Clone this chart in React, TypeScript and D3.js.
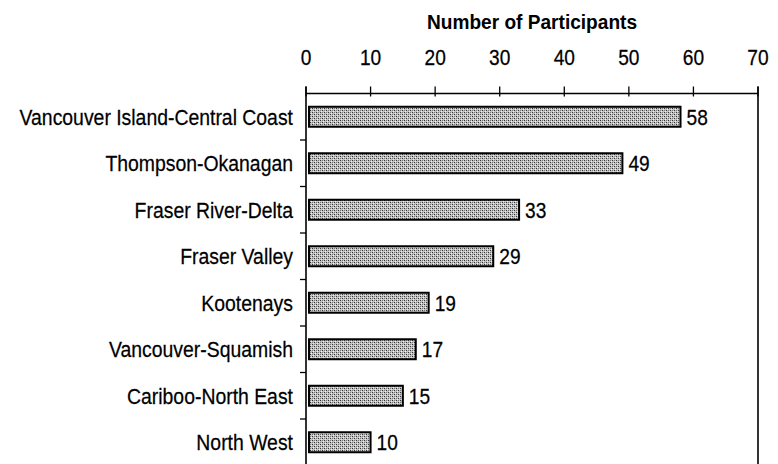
import React from "react";
import * as d3 from "d3";

const categories = [
  "Vancouver Island-Central Coast",
  "Thompson-Okanagan",
  "Fraser River-Delta",
  "Fraser Valley",
  "Kootenays",
  "Vancouver-Squamish",
  "Cariboo-North East",
  "North West",
];
const values = [58, 49, 33, 29, 19, 17, 15, 10];
const tickValues = [0, 10, 20, 30, 40, 50, 60, 70];
const axisTitle = "Number of Participants";

const W = 778;
const H = 464;
const left = 306;
const right = 758;
const top = 93.5;
const band = 46.5;
const SX = 0.87;

function T({
  x,
  y,
  anchor,
  size,
  bold,
  children,
}: {
  x: number;
  y: number;
  anchor: "start" | "middle" | "end";
  size: number;
  bold?: boolean;
  children: React.ReactNode;
}) {
  return (
    <g transform={`translate(${x},${y}) scale(${bold ? 0.91 : SX},1)`}>
      <text
        x={0}
        y={0}
        textAnchor={anchor}
        fontSize={size}
        fontWeight={bold ? "bold" : "normal"}
        stroke="#000"
        strokeWidth={bold ? 0 : 0.25}
      >
        {children}
      </text>
    </g>
  );
}

export default function App() {
  const x = d3.scaleLinear().domain([0, 70]).range([left, right]);
  const y = d3
    .scaleBand<string>()
    .domain(categories)
    .range([top, top + band * categories.length])
    .paddingInner(0.57)
    .paddingOuter(0.285);
  const font = "'Liberation Sans', Arial, sans-serif";
  const bottom = top + band * categories.length;
  return (
    <svg
      width={W}
      height={H}
      style={{ position: "absolute", left: 0, top: 0, background: "#fff" }}
      fontFamily={font}
    >
      <defs>
        <pattern id="dots" width="4" height="4" patternUnits="userSpaceOnUse">
          <rect width="4" height="4" fill="#c4c4c4" />
          <rect x="0" y="0" width="1" height="1" fill="#333" />
          <rect x="2" y="2" width="1" height="1" fill="#333" />
          <rect x="2" y="0" width="1" height="1" fill="#7a7a7a" />
          <rect x="0" y="2" width="1" height="1" fill="#7a7a7a" />
          <rect x="1" y="3" width="1" height="1" fill="#eeeeee" />
          <rect x="3" y="1" width="1" height="1" fill="#eeeeee" />
        </pattern>
      </defs>
      <T x={(left + right) / 2} y={28.5} anchor="middle" size={21} bold>
        {axisTitle}
      </T>
      {tickValues.map((t) => (
        <g key={t}>
          <T x={x(t)} y={65} anchor="middle" size={22}>
            {t}
          </T>
          <line x1={x(t)} x2={x(t)} y1={top - 7} y2={top + 3} stroke="#000" strokeWidth={1.3} />
        </g>
      ))}
      <line x1={left} x2={right} y1={top} y2={top} stroke="#000" strokeWidth={1.6} />
      <line x1={left} x2={left} y1={top - 7} y2={bottom} stroke="#000" strokeWidth={1.6} />
      <line x1={right} x2={right} y1={top - 7} y2={bottom} stroke="#000" strokeWidth={1.6} />
      {categories.slice(1).map((c, i) => (
        <line
          key={c}
          x1={left - 6}
          x2={left}
          y1={top + band * (i + 1)}
          y2={top + band * (i + 1)}
          stroke="#000"
          strokeWidth={1.3}
        />
      ))}
      {categories.map((c, i) => {
        const yy = y(c) as number;
        const h = y.bandwidth();
        const cy = yy + h / 2;
        return (
          <g key={c}>
            <T x={left - 13} y={cy + 7.8} anchor="end" size={22.3}>
              {c}
            </T>
            <rect
              x={x(0) + 3}
              y={yy}
              width={x(values[i]) - x(0) - 3}
              height={h}
              fill="url(#dots)"
              stroke="#000"
              strokeWidth={2}
            />
            <T x={x(values[i]) + 6} y={cy + 7.8} anchor="start" size={22}>
              {values[i]}
            </T>
          </g>
        );
      })}
    </svg>
  );
}
